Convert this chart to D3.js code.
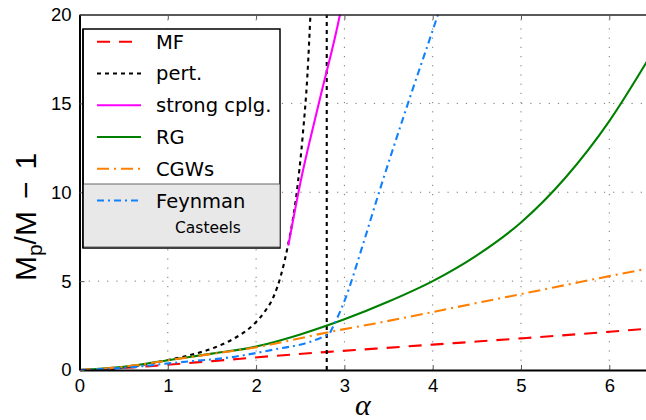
<!DOCTYPE html>
<html><head><meta charset="utf-8">
<script src="https://cdn.jsdelivr.net/npm/d3@7/dist/d3.min.js"></script>
<style>body{margin:0;background:#fff}svg{display:block}</style>
</head><body>
<svg id="c" width="646" height="420"></svg>
<script>
// ---- data ----
const xTicks = [0, 1, 2, 3, 4, 5, 6];
const yTicks = [0, 5, 10, 15, 20];
const gridX = [1, 2, 3, 4, 5, 6];
const gridY = [5, 10, 15];

const mfX = [0, 0.4, 0.8, 1.5, 2.2, 2.82, 3.35, 4.0, 4.5, 5.0, 6.0, 6.45];
const mfY = [0, 0.08, 0.22, 0.5, 0.79, 1.02, 1.2, 1.43, 1.6, 1.78, 2.15, 2.33];

const pertX = [0, 0.5, 1.0, 1.3, 1.55, 1.76, 1.9, 2.0, 2.1, 2.2, 2.28, 2.36, 2.45, 2.53, 2.58, 2.62];
const pertY = [0, 0.14, 0.56, 0.9, 1.3, 1.8, 2.25, 2.7, 3.3, 4.15, 5.3, 7.0, 9.6, 13.3, 16.5, 20.5];
const pertVX = [2.8, 2.8];
const pertVY = [0, 20];

const strongX = [2.365, 2.5, 2.72, 2.95, 2.97];
const strongY = [7.0, 10.5, 15.2, 20, 20.5];

const rgX = [0, 0.5, 1.0, 1.5, 2.0, 2.5, 3.0, 3.5, 4.0, 4.5, 5.0, 5.5, 6.0, 6.45];
const rgY = [0, 0.18, 0.55, 0.92, 1.32, 2.0, 2.85, 3.85, 5.0, 6.45, 8.3, 10.8, 14.0, 17.55];

const cgwX = [0, 0.52, 1.08, 1.535, 1.99, 2.21, 2.89, 3.35, 3.99, 4.48, 4.98, 6.0, 6.45];
const cgwY = [0, 0.19, 0.6, 0.93, 1.27, 1.48, 2.2, 2.62, 3.25, 3.75, 4.25, 5.28, 5.72];

const feyX1 = [0, 0.5, 1.08, 1.76, 2.21, 2.59, 2.83];
const feyY1 = [0, 0.12, 0.41, 0.75, 1.16, 1.55, 2.02];
const feyX2 = [2.83, 3.01, 3.2, 3.38, 3.72, 4.06, 4.1];
const feyY2 = [2.02, 4.0, 6.9, 9.8, 15.0, 20, 20.6];

const legendLabels = ["MF", "pert.", "strong cplg.", "RG", "CGWs", "Feynman"];
const legendNote = "Casteels";

// ---- styles ----
const styles = {
  "MF":           {color: "#ff0000", dash: "13,9"},
  "pert.":        {color: "#000000", dash: "4,4"},
  "strong cplg.": {color: "#ff00ff", dash: null},
  "RG":           {color: "#008000", dash: null},
  "CGWs":         {color: "#ff8000", dash: "12,5,2,5"},
  "Feynman":      {color: "#1080ff", dash: "7,4,2,4"}
};

const svg = d3.select("#c");
const L = 79.5, R = 646, T = 14.5, B = 370;
const x = d3.scaleLinear().domain([0, (R - L) / 88.3]).range([L, R]);
const y = d3.scaleLinear().domain([0, 20]).range([B, T]);

svg.append("defs").append("clipPath").attr("id", "clip")
  .append("rect").attr("x", L).attr("y", T).attr("width", R - L).attr("height", B - T);

// grid
const grid = svg.append("g").attr("stroke", "#777").attr("stroke-width", 1).attr("stroke-dasharray", "1.2,8");
grid.selectAll("line.gx").data(gridX).join("line")
  .attr("x1", d => x(d)).attr("x2", d => x(d)).attr("y1", B).attr("y2", T);
grid.selectAll("line.gy").data(gridY).join("line")
  .attr("y1", d => y(d)).attr("y2", d => y(d)).attr("x1", L).attr("x2", R);

const zip = (xs, ys) => xs.map((v, i) => [v, ys[i]]);
const line = d3.line().x(d => x(d[0])).y(d => y(d[1])).curve(d3.curveMonotoneX);
const lineV = d3.line().x(d => x(d[0])).y(d => y(d[1]));

const plot = svg.append("g").attr("clip-path", "url(#clip)").attr("fill", "none").attr("stroke-width", 2.1);
function draw(d, key) {
  const s = styles[key];
  plot.append("path").attr("d", d).attr("stroke", s.color)
    .attr("stroke-dasharray", s.dash);
}
draw(line(zip(mfX, mfY)), "MF");
draw(line(zip(pertX, pertY)), "pert.");
draw(lineV(zip(pertVX, pertVY)), "pert.");
draw(line(zip(strongX, strongY)), "strong cplg.");
draw(line(zip(rgX, rgY)), "RG");
draw(line(zip(cgwX, cgwY)), "CGWs");
const f1 = line(zip(feyX1, feyY1));
const f2 = line(zip(feyX2, feyY2)).replace(/^M/, "L");
draw(f1 + f2, "Feynman");

// axes
const tickFont = "'Liberation Sans', Arial, sans-serif";
function styleAxis(g) {
  g.select(".domain").attr("stroke", "#000").attr("stroke-width", 2);
  g.selectAll(".tick line").attr("stroke", "#555").attr("stroke-width", 1);
  g.selectAll(".tick text").attr("fill", "#000").style("font-family", tickFont).style("font-size", "18.5px");
}
svg.append("g").attr("transform", `translate(0,${B})`)
  .call(d3.axisBottom(x).tickValues(xTicks).tickSizeInner(-5).tickSizeOuter(0).tickPadding(9).tickFormat(d3.format("d")))
  .call(styleAxis);
svg.append("g").attr("transform", `translate(0,${T})`)
  .call(d3.axisTop(x).tickValues(xTicks).tickSizeInner(-5).tickSizeOuter(0).tickFormat(""))
  .call(styleAxis)
  .call(g => g.select(".domain").attr("stroke", "#222").attr("stroke-width", 1.6));
svg.append("g").attr("transform", `translate(${L},0)`)
  .call(d3.axisLeft(y).tickValues(yTicks).tickSizeInner(-5).tickSizeOuter(0).tickPadding(8).tickFormat(d3.format("d")))
  .call(styleAxis);

// axis labels
const yl = svg.append("text").attr("transform", "translate(36,217) rotate(-90)")
  .attr("text-anchor", "middle").style("font-family", tickFont).style("font-size", "30px").attr("fill", "#000");
yl.append("tspan").text("M");
yl.append("tspan").text("p").attr("dy", 6).style("font-size", "21px");
yl.append("tspan").text("/M").attr("dy", -6);
yl.append("tspan").text("\u2212").attr("dx", 12);
yl.append("tspan").text("1").attr("dx", 12);

svg.append("text").attr("x", (L + R) / 2).attr("y", 415).attr("text-anchor", "middle")
  .style("font-family", "'Liberation Serif', 'DejaVu Serif', serif").style("font-style", "italic")
  .style("font-size", "30px").text("\u03b1");

// legend
const lg = svg.append("g");
lg.append("rect").attr("x", 83).attr("y", 29).attr("width", 197).attr("height", 219)
  .attr("fill", "#fff").attr("stroke", "#000").attr("stroke-width", 1.5);
lg.append("rect").attr("x", 83).attr("y", 184).attr("width", 197).attr("height", 63)
  .attr("fill", "#e8e8e8").attr("stroke", "#444").attr("stroke-width", 0.8);
lg.append("line").attr("x1", 83).attr("x2", 83).attr("y1", 29).attr("y2", 248).attr("stroke", "#000").attr("stroke-width", 1.5);
const rowY = d3.scaleLinear().domain([0, 5]).range([41.7, 200.5]);
legendLabels.forEach((lab, i) => {
  const s = styles[lab];
  const cy = rowY(i);
  lg.append("line").attr("x1", 97).attr("x2", 141).attr("y1", cy).attr("y2", cy)
    .attr("stroke", s.color).attr("stroke-width", 2).attr("stroke-dasharray", s.dash);
  lg.append("text").attr("x", 156).attr("y", cy + 7).text(lab)
    .style("font-family", "'DejaVu Sans', sans-serif").style("font-size", "19.5px").attr("fill", "#000");
});
lg.append("text").attr("x", 175).attr("y", 233).text(legendNote)
  .style("font-family", "'DejaVu Sans', sans-serif").style("font-size", "15.5px").attr("fill", "#000");
</script>
</body></html>
